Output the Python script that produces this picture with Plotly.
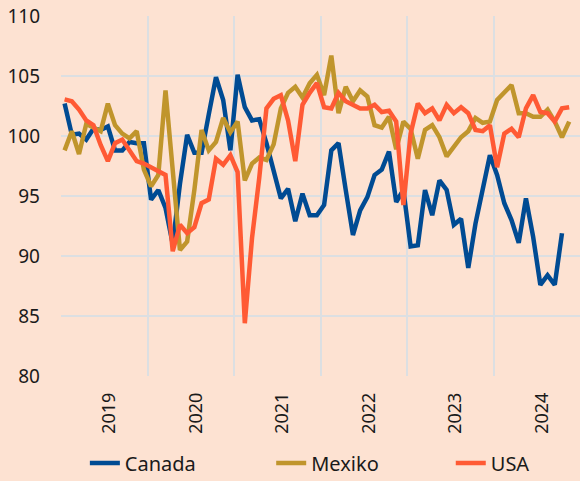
import plotly.graph_objects as go

start_year = 2019
canada = [102.7, 100.1, 100.2, 99.7, 100.6, 100.5, 100.8, 98.8, 98.8, 99.5, 99.4, 99.4,
          94.7, 95.5, 94.0, 91.0, 96.0, 100.1, 98.6, 98.6, 101.8, 104.9, 103.0, 98.8,
          105.1, 102.4, 101.3, 101.4, 99.4, 96.9, 94.8, 95.6, 92.9, 95.2, 93.4, 93.4,
          94.25, 98.8, 99.4, 95.5, 91.75, 93.8, 94.9, 96.75, 97.2, 98.7, 94.5, 95.5,
          90.8, 90.9, 95.5, 93.4, 96.3, 95.5, 92.6, 93.1, 89.0, 92.7, 95.5, 98.4,
          96.75, 94.4, 93.0, 91.1, 94.8, 91.6, 87.6, 88.4, 87.6, 91.9]
mexiko = [98.8, 100.4, 98.5, 101.0, 100.7, 100.4, 102.7, 100.9, 100.2, 99.8, 100.4, 97.2,
          95.8, 96.75, 103.8, 97.0, 90.5, 91.2, 95.5, 100.5, 98.8, 99.5, 101.5, 100.3,
          101.2, 96.3, 97.7, 98.2, 98.0, 99.3, 102.3, 103.6, 104.1, 103.2, 104.4, 105.1,
          103.4, 106.7, 101.9, 104.1, 102.9, 103.8, 103.3, 100.9, 100.7, 101.6, 98.9, 101.2,
          100.6, 98.1, 100.5, 100.9, 99.9, 98.3, 99.1, 99.9, 100.4, 101.5, 101.1, 101.2,
          103.0, 103.6, 104.25, 101.9, 101.9, 101.6, 101.6, 102.2, 101.2, 99.9, 101.2]
usa = [103.05, 102.9, 102.2, 101.3, 100.9, 99.25, 97.9, 99.4, 99.7, 98.8, 97.9, 97.7,
       97.4, 97.0, 96.75, 90.4, 92.6, 91.9, 92.4, 94.4, 94.7, 98.1, 97.6, 98.4,
       97.0, 84.4, 91.5, 96.5, 102.3, 103.1, 103.4, 101.3, 97.9, 102.6, 103.6, 104.4,
       102.4, 102.3, 103.6, 102.9, 102.6, 102.3, 102.3, 102.6, 102.0, 102.1, 101.2, 94.25,
       100.2, 102.7, 101.9, 102.3, 101.3, 102.6, 101.9, 102.4, 101.9, 100.5, 100.4, 100.9,
       97.4, 100.2, 100.6, 99.9, 102.3, 103.4, 102.0, 101.9, 101.2, 102.3, 102.4]

year_labels = ["2019", "2020", "2021", "2022", "2023", "2024"]
y_ticks = [80, 85, 90, 95, 100, 105, 110]


def months(n):
    return [start_year + (i + 0.5) / 12 for i in range(n)]


series = [("Canada", canada, "#004b93", "legend"),
          ("Mexiko", mexiko, "#c0952c", "legend2"),
          ("USA", usa, "#ff5a34", "legend3")]

fig = go.Figure()
for name, vals, col, lg in series:
    fig.add_trace(go.Scatter(x=months(len(vals)), y=vals, mode="lines", name=name,
                             legend=lg, line=dict(color=col, width=4.5)))

font_family = "Noto Sans, Open Sans, DejaVu Sans, sans-serif"
bg = "#fde2d2"
grid = "#dcdfe2"


def leg(xpos):
    return dict(orientation="h", x=xpos, xanchor="left", y=-0.242, yanchor="middle",
                font=dict(size=20), itemwidth=30, bgcolor="rgba(0,0,0,0)")


fig.update_layout(
    width=580, height=481,
    margin=dict(l=61, r=0, t=16, b=105, autoexpand=False),
    paper_bgcolor=bg, plot_bgcolor=bg,
    font=dict(family=font_family, size=18, color="#1a1a1a"),
    showlegend=True,
    legend=leg(0.046), legend2=leg(0.405), legend3=leg(0.751),
    xaxis=dict(range=[2019, 2025], tickmode="array", automargin=False,
               tickvals=[int(y) + 0.56 for y in year_labels], ticktext=year_labels,
               tickangle=-90, showgrid=False, zeroline=False, showline=False,
               ticks="", ticklabelstandoff=12,
               minor=dict(tickvals=[2019, 2020, 2021, 2022, 2023, 2024, 2025],
                          showgrid=True, gridcolor=grid, gridwidth=1.5, ticks="")),
    yaxis=dict(range=[80, 110], tickmode="array", tickvals=y_ticks, automargin=False,
               showgrid=True, gridcolor=grid, gridwidth=1.5, zeroline=False,
               showline=False, ticks="", ticklabelstandoff=20,
               tickfont=dict(size=19)),
)

fig.write_html("out.html", config={"displayModeBar": False},
               post_script="document.body.style.margin='0';document.body.style.overflow='hidden';")
